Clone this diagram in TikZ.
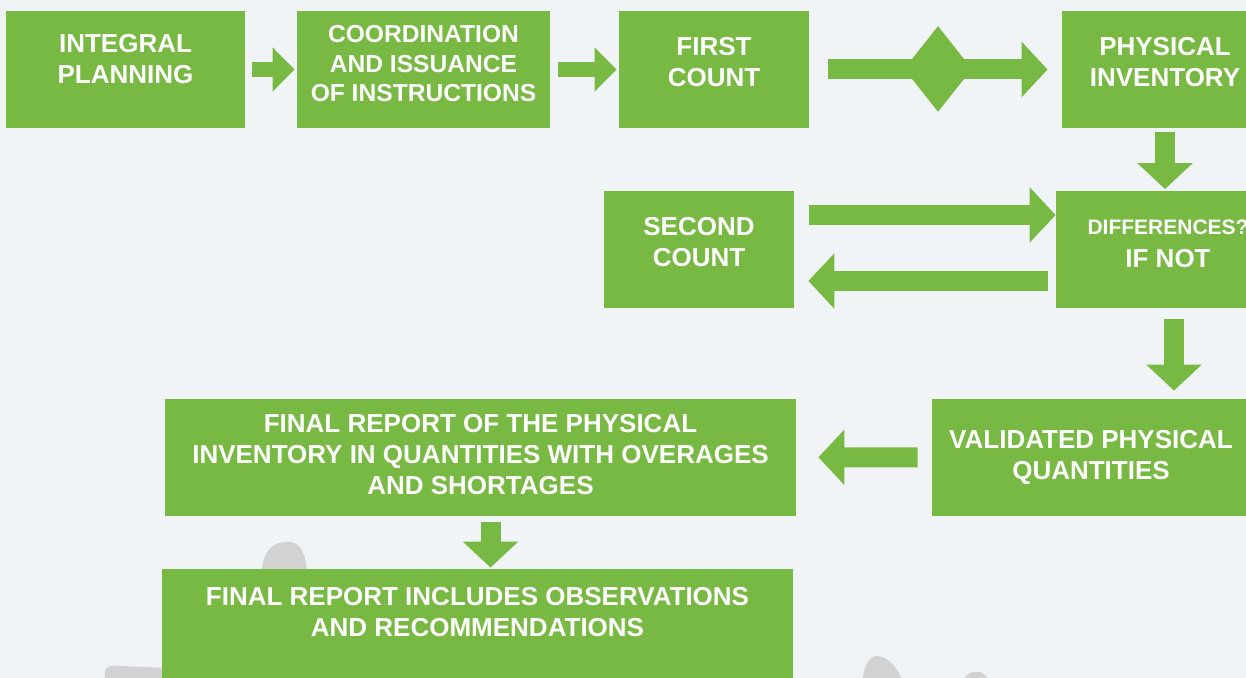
\documentclass[tikz,border=0pt]{standalone}
\usepackage{fontspec}
\setmainfont{Liberation Sans}
\usetikzlibrary{arrows.meta,shapes.geometric}

\definecolor{leaf}{RGB}{119,185,67}
\definecolor{paper}{RGB}{240,244,246}
\definecolor{blob}{RGB}{210,210,210}

\tikzstyle{stage} = [rectangle, fill=leaf, text=white, align=center,
                     font=\bfseries\fontsize{13}{15.5}\selectfont,
                     inner sep=0pt, text depth=8pt, minimum height=58.5pt]
\tikzstyle{flow} = [-{Triangle[length=13pt,width=27pt]}, line width=10pt, leaf]
\tikzstyle{small flow} = [-{Triangle[length=11pt,width=21.5pt]}, line width=7.5pt, leaf]

\begin{document}
\begin{tikzpicture}[x=0.5pt, y=-0.5pt]
  \fill [paper] (0,0) rectangle (1246,678);
  \useasboundingbox (0,0) rectangle (1246,678);

  %% grey shapes behind the last box
  \fill [blob] (261,600) .. controls (260,560) and (264,545) .. (284,542)
               .. controls (304,540) and (308,556) .. (308,600) -- cycle;
  \fill [blob] (104,690) -- (105,672) .. controls (106,666) and (110,665) .. (118,666)
               -- (170,668) -- (170,690) -- cycle;
  \fill [blob] (862,690) .. controls (862,665) and (870,655) .. (878,656)
               .. controls (888,657) and (900,668) .. (905,690) -- cycle;
  \fill [blob] (960,690) .. controls (962,676) and (970,670) .. (980,672)
               .. controls (986,674) and (990,680) .. (992,690) -- cycle;

  %% top row
  \node (plan) [stage, minimum width=119.5pt, text depth=11pt] at (125.5,69.5)
        {INTEGRAL\\ PLANNING};
  \node (coord) [stage, minimum width=126.5pt, text depth=6pt,
                 font=\bfseries\fontsize{12.3}{14.8}\selectfont] at (423.5,69.5)
        {COORDINATION\\ AND ISSUANCE\\ OF INSTRUCTIONS};
  \node (first) [stage, minimum width=95pt] at (714,69.5) {FIRST\\ COUNT};
  \node (phys) [stage, minimum width=103pt] at (1165,69.5) {PHYSICAL\\ INVENTORY};

  \draw [small flow, shorten <=3.5pt, shorten >=1pt] (plan) -- (coord);
  \draw [small flow, shorten <=4pt, shorten >=1pt] (coord) -- (first);
  \draw [flow, shorten <=9.5pt, shorten >=7pt] (first) -- (phys);
  \node (check) [diamond, fill=leaf, inner sep=0pt,
                 minimum width=34pt, minimum height=43pt] at (938,69) {};

  %% second count loop
  \node (second) [stage, minimum width=95pt] at (699,250) {SECOND\\ COUNT};
  \node (diff) [stage, minimum width=112pt, text depth=6pt] at (1168,250)
        {{\fontsize{10.5}{12}\selectfont DIFFERENCES?}\\[1pt] IF NOT};

  \draw [flow, shorten <=2pt, shorten >=1pt] (phys.south) -- (phys.south |- diff.north);
  \draw [flow, shorten <=7.5pt] ([yshift=17.5pt]second.east) -- ([yshift=17.5pt]diff.west);
  \draw [flow, shorten <=4pt, shorten >=7pt] ([yshift=-15.5pt]diff.west) -- ([yshift=-15.5pt]second.east);

  %% results
  \node (valid) [stage, minimum width=159pt, text depth=3pt] at (1091,457.5)
        {VALIDATED PHYSICAL\\ QUANTITIES};
  \node (final) [stage, minimum width=315.5pt, text depth=3pt] at (480.5,457)
        {FINAL REPORT OF THE PHYSICAL\\ INVENTORY IN QUANTITIES WITH OVERAGES\\ AND SHORTAGES};
  \node (include) [stage, minimum width=315.5pt, text depth=16pt] at (477.5,627.5)
        {FINAL REPORT INCLUDES OBSERVATIONS\\ AND RECOMMENDATIONS};

  \draw [flow, shorten <=5pt, shorten >=4pt] ([xshift=3pt]diff.south) -- ([xshift=3pt]diff.south |- valid.north);
  \draw [flow, shorten <=7pt, shorten >=11pt] (valid) -- (final);
  \draw [flow, shorten <=3pt, shorten >=0.5pt] ([xshift=5pt]final.south) -- ([xshift=5pt]final.south |- include.north);

\end{tikzpicture}
\end{document}
